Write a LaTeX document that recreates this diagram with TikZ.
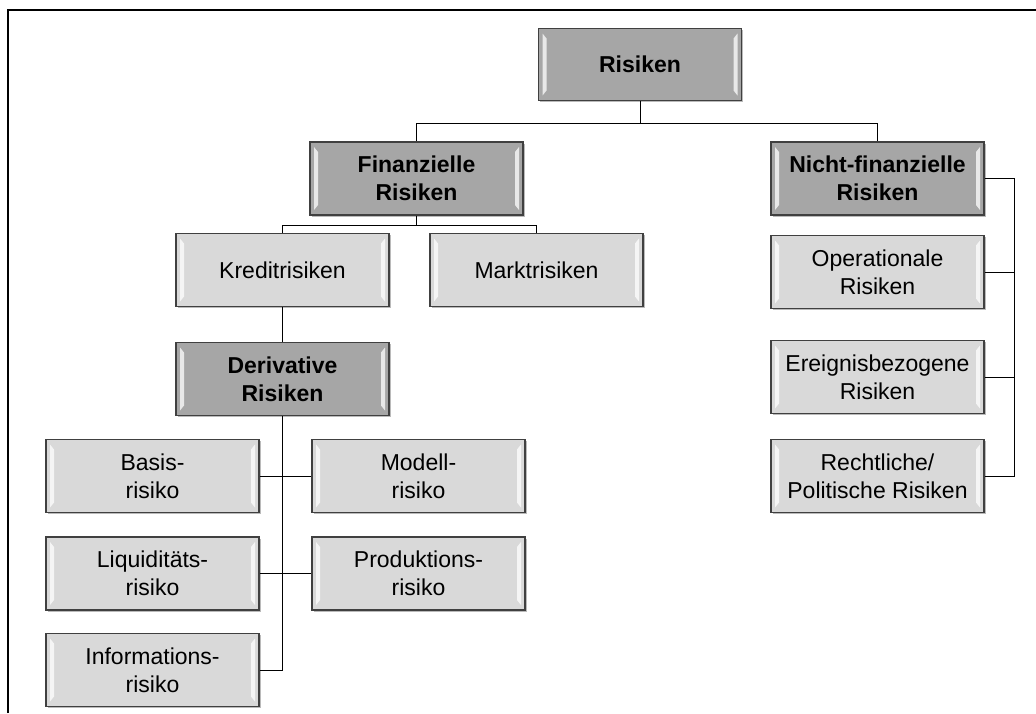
\documentclass[tikz,border=0pt]{standalone}
\usepackage{fontspec}
\setmainfont{Liberation Sans}
\usepackage{tikz}
\usetikzlibrary{positioning,calc,shadows}
\definecolor{boxDark}{HTML}{A6A6A6}
\definecolor{boxLight}{HTML}{D9D9D9}
\definecolor{boxBorder}{HTML}{404040}

\tikzset{
  riskbox/.style={draw=boxBorder, line width=1.2pt, align=center, inner sep=0pt,
    minimum width=213pt, minimum height=73pt,
    font=\fontsize{23}{28}\selectfont,
    drop shadow={shadow xshift=1.5pt, shadow yshift=-1.5pt, fill=black!60, opacity=.45},
    path picture={
      \fill[white, opacity=.75]
        ([xshift=4pt,yshift=-5pt]path picture bounding box.north west) --
        ([xshift=8pt,yshift=-10pt]path picture bounding box.north west) --
        ([xshift=8pt,yshift=10pt]path picture bounding box.south west) --
        ([xshift=4pt,yshift=5pt]path picture bounding box.south west) -- cycle;
      \fill[white, opacity=.75]
        ([xshift=-4pt,yshift=-5pt]path picture bounding box.north east) --
        ([xshift=-8pt,yshift=-10pt]path picture bounding box.north east) --
        ([xshift=-8pt,yshift=10pt]path picture bounding box.south east) --
        ([xshift=-4pt,yshift=5pt]path picture bounding box.south east) -- cycle;
    }},
  darkbox/.style={riskbox, fill=boxDark, font=\fontsize{23}{28}\selectfont\bfseries},
  lightbox/.style={riskbox, fill=boxLight},
  conn/.style={draw=black, line width=1pt}
}

\begin{document}
\begin{tikzpicture}[x=1pt,y=-1pt]
    \useasboundingbox (0,0) rectangle (1036,713);
    % frame
    \draw[line width=1.6pt] (8,713) -- (8,10) -- (1036,10);

    % top levels
    \node[darkbox, minimum width=203pt, minimum height=72pt] (risiken) at (640,64.5) {Risiken};
    \node[darkbox] (fin) at (416.5,178.5) {Finanzielle\\Risiken};
    \node[darkbox] (nicht) at (877.5,178.5) {Nicht-finanzielle\\Risiken};

    % finanzielle Risiken
    \node[lightbox] (kredit) at (282.5,270) {Kreditrisiken};
    \node[lightbox] (markt) at (536.5,270) {Marktrisiken};
    \node[darkbox] (deriv) at (282.5,379) {Derivative\\Risiken};

    % derivative Risiken
    \node[lightbox] (basis) at (152.5,476) {Basis-\\risiko};
    \node[lightbox] (modell) at (418.5,476) {Modell-\\risiko};
    \node[lightbox] (liq) at (152.5,573.5) {Liquiditäts-\\risiko};
    \node[lightbox] (prod) at (418.5,573.5) {Produktions-\\risiko};
    \node[lightbox] (info) at (152.5,670) {Informations-\\risiko};

    % nicht-finanzielle Risiken
    \node[lightbox] (oper) at (877.5,272) {Operationale\\Risiken};
    \node[lightbox] (ereig) at (877.5,377) {Ereignisbezogene\\Risiken};
    \node[lightbox] (recht) at (877.5,476) {Rechtliche/\\Politische Risiken};

    % connectors
    \draw[conn] (risiken.south) -- ++(0,22) -| (fin.north);
    \draw[conn] (risiken.south) -- ++(0,22) -| (nicht.north);
    \draw[conn] (fin.south) -- ++(0,10) -| (kredit.north);
    \draw[conn] (fin.south) -- ++(0,10) -| (markt.north);
    \draw[conn] (kredit.south) -- (deriv.north);
    \draw[conn] (deriv.south) |- (info.east);
    \draw[conn] (basis.east) -- (modell.west);
    \draw[conn] (liq.east) -- (prod.west);

    \coordinate (rail) at ($(nicht.east)+(30,0)$);
    \draw[conn] (nicht.east) -- (rail) |- (recht.east);
    \draw[conn] (rail) |- (oper.east);
    \draw[conn] (rail) |- (ereig.east);
\end{tikzpicture}
\end{document}
